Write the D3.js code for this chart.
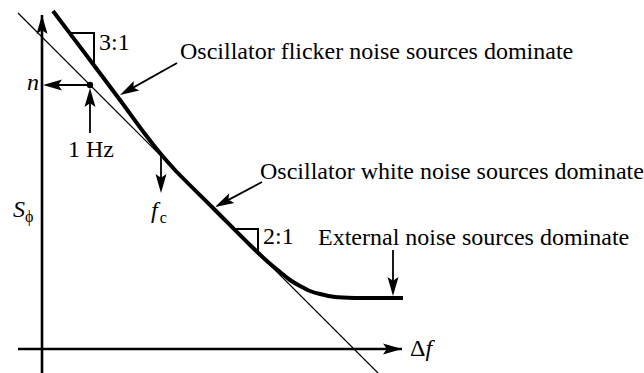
<!DOCTYPE html>
<html>
<head>
<meta charset="utf-8">
<script src="https://cdn.jsdelivr.net/npm/d3@7"></script>
<style>
  html, body { margin: 0; padding: 0; background: #fff; }
  text { font-family: "Liberation Serif", "Times New Roman", "DejaVu Serif", serif; fill: #000; }
</style>
</head>
<body>
<svg id="chart" width="644" height="373"></svg>
<script>
// Diagram units: x = log-frequency offset from the axis origin, y = level above the axis origin
const noiseCurve = [
  [11, 338], [48, 289], [78, 249], [103, 215], [118, 196], [133, 179],
  [171, 141], [208, 104], [226, 87], [238, 77], [248, 69], [258, 63],
  [268, 58], [278, 55], [293, 52], [318, 51], [361, 51]
];
const whiteAsymptote = [[-24, 336], [336, -24]];
const yAxisLine = [[0, -24], [0, 334]];
const xAxisLine = [[-24, 0], [360, 0]];
const oneHzPoint = [48, 264];

const slope31 = [[29, 316], [52, 316], [52, 285]];
const slope21 = [[193, 120], [216, 120], [216, 98]];

// annotation arrows: [from, to]
const pointers = [
  [[48, 264], [1, 264]],      // to n
  [[48, 216], [48, 261]],     // 1 Hz up to point
  [[119, 194], [119, 156]],   // f_c
  [[135, 286], [78, 254]],    // flicker
  [[220, 167], [173, 142]],   // white
  [[351, 99], [351, 53]]      // external
];

const labels = [
  { text: 'Oscillator flicker noise sources dominate', at: [138, 290] },
  { text: 'Oscillator white noise sources dominate', at: [218, 170] },
  { text: 'External noise sources dominate', at: [276, 104] },
  { text: '3:1', at: [57, 299] },
  { text: '2:1', at: [221, 105] },
  { text: '1 Hz', at: [26, 192] }
];

const svg = d3.select('#chart');

const x = d3.scaleLinear().domain([0, 360]).range([42, 402]);
const y = d3.scaleLinear().domain([0, 360]).range([349, -11]);

const line = d3.line().x((d) => x(d[0])).y((d) => y(d[1]));
const smooth = d3.line().x((d) => x(d[0])).y((d) => y(d[1])).curve(d3.curveCatmullRom.alpha(0.5));

// filled arrowhead with a small notch, tip at p1
const arrowHead = function (p0, p1, len, half) {
  const x0 = x(p0[0]), y0 = y(p0[1]), x1 = x(p1[0]), y1 = y(p1[1]);
  const a = Math.atan2(y1 - y0, x1 - x0);
  const ux = Math.cos(a), uy = Math.sin(a);
  const bx = x1 - ux * len, by = y1 - uy * len;
  const nx = x1 - ux * len * 0.8, ny = y1 - uy * len * 0.8;
  return `M${x1},${y1} L${bx - uy * half},${by + ux * half} L${nx},${ny} L${bx + uy * half},${by - ux * half} Z`;
};

// thin asymptote
svg.append('path')
  .attr('d', line(whiteAsymptote))
  .attr('fill', 'none')
  .attr('stroke', '#000')
  .attr('stroke-width', 1.2);

// axes
[yAxisLine, xAxisLine].forEach((ax) => {
  svg.append('path')
    .attr('d', line(ax))
    .attr('fill', 'none')
    .attr('stroke', '#000')
    .attr('stroke-width', 2.6);
  svg.append('path')
    .attr('d', arrowHead(ax[0], ax[1], 19, 5.5))
    .attr('fill', '#000');
});

// noise curve
svg.append('path')
  .attr('d', smooth(noiseCurve))
  .attr('fill', 'none')
  .attr('stroke', '#000')
  .attr('stroke-width', 4);

// slope triangles
[slope31, slope21].forEach((tri) => {
  svg.append('path')
    .attr('d', line(tri))
    .attr('fill', 'none')
    .attr('stroke', '#000')
    .attr('stroke-width', 2);
});

// pointers
pointers.forEach((p) => {
  const a = Math.atan2(y(p[1][1]) - y(p[0][1]), x(p[1][0]) - x(p[0][0]));
  const end = [x(p[1][0]) - Math.cos(a) * 12, y(p[1][1]) - Math.sin(a) * 12];
  svg.append('line')
    .attr('x1', x(p[0][0])).attr('y1', y(p[0][1]))
    .attr('x2', end[0]).attr('y2', end[1])
    .attr('stroke', '#000')
    .attr('stroke-width', 1.8);
  svg.append('path')
    .attr('d', arrowHead(p[0], p[1], 19, 5.5))
    .attr('fill', '#000');
});

// 1 Hz point
svg.append('circle')
  .attr('cx', x(oneHzPoint[0]))
  .attr('cy', y(oneHzPoint[1]))
  .attr('r', 3.2)
  .attr('fill', '#000');

// labels
svg.selectAll('text.lbl')
  .data(labels)
  .join('text')
  .attr('class', 'lbl')
  .attr('x', (d) => x(d.at[0]))
  .attr('y', (d) => y(d.at[1]))
  .attr('font-size', 24)
  .text((d) => d.text);

// n
svg.append('text')
  .attr('x', x(-15)).attr('y', y(259))
  .attr('font-size', 24)
  .attr('font-style', 'italic')
  .text('n');

// S_phi
const sp = svg.append('text')
  .attr('x', x(-29)).attr('y', y(132))
  .attr('font-size', 24);
sp.append('tspan').attr('font-style', 'italic').text('S');
sp.append('tspan').attr('font-size', 16).attr('dy', 5).text('\u03D5');

// f_c
const fc = svg.append('text')
  .attr('x', x(109)).attr('y', y(131))
  .attr('font-size', 24);
fc.append('tspan').attr('font-style', 'italic').text('f');
fc.append('tspan').attr('font-size', 16).attr('dx', 2).attr('dy', 5).text('c');

// delta f
const df = svg.append('text')
  .attr('x', x(368)).attr('y', y(-7))
  .attr('font-size', 24);
df.append('tspan').text('\u0394');
df.append('tspan').attr('font-style', 'italic').text('f');
</script>
</body>
</html>
